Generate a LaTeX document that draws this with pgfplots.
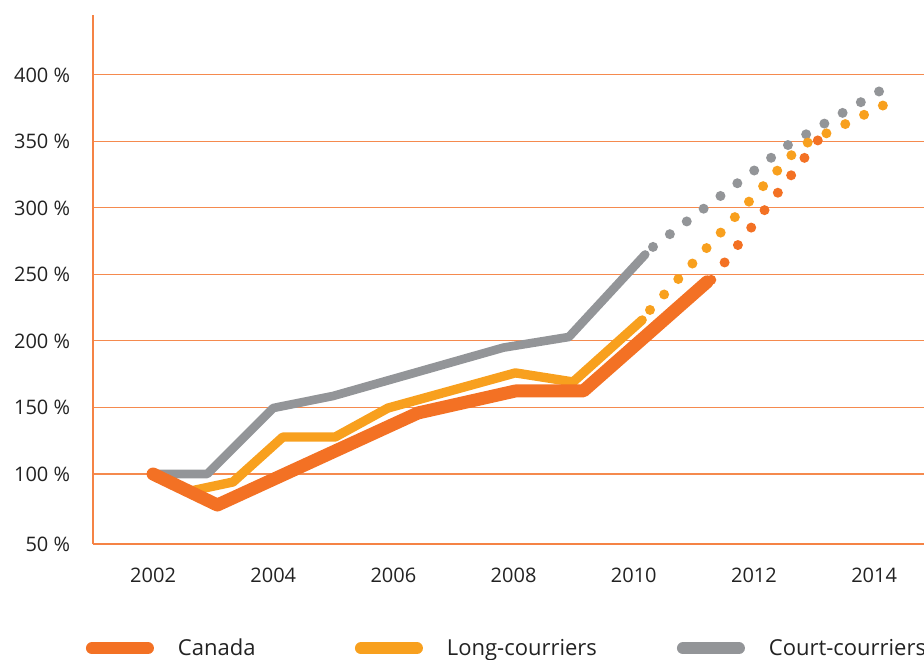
\documentclass[border=0pt]{standalone}
\usepackage{pgfplots}
\pgfplotsset{compat=1.18}
\usepackage{fontspec}
\setmainfont{Open Sans}

\definecolor{canada}{HTML}{F37124}
\definecolor{longc}{HTML}{F8A01E}
\definecolor{courtc}{HTML}{939598}
\definecolor{axisor}{HTML}{F58345}
\definecolor{gridor}{HTML}{F58A4E}
\definecolor{txt}{HTML}{222222}

\begin{document}
\begin{tikzpicture}
\path[use as bounding box] (-69.75pt,-87pt) rectangle (623.25pt,408pt);
\begin{axis}[
    at={(0pt,0pt)}, anchor=south west,
    scale only axis,
    width=623.25pt, height=396.75pt,
    xmin=2001, xmax=2014.83,
    ymin=47.4, ymax=445,
    axis lines*=left,
    axis line style={axisor, line width=1.5pt},
    major tick length=0pt,
    xtick={2002,2004,...,2014},
    xticklabels={2002,2004,2006,2008,2010,2012,2014},
    ytick={47.4,100,150,200,250,300,350,400},
    yticklabels={50 \%,100 \%,150 \%,200 \%,250 \%,300 \%,350 \%,400 \%},
    ymajorgrids,
    major grid style={gridor, line width=0.8pt},
    ticklabel style={font=\fontsize{15}{18}\selectfont, text=txt, inner sep=0pt},
    yticklabel style={anchor=east, xshift=-17pt},
    xticklabel style={anchor=north, yshift=-18pt},
    no markers,
    clip=false,
    legend columns=3,
    legend style={at={(0.497,-0.197)}, anchor=center, draw=none, fill=none,
        font=\fontsize{16.5}{19}\selectfont, text=txt,
        nodes={inner sep=0pt},
        /tikz/every odd column/.append style={column sep=18pt},
        /tikz/every even column/.append style={column sep=0pt}},
    legend image code/.code={\draw[#1, line width=9pt, line cap=round] (0pt,0pt) -- (42pt,0pt);},
]
\addlegendimage{color=canada}
\addlegendentry{\makebox[132.75pt][l]{Canada}}
\addlegendimage{color=longc}
\addlegendentry{\makebox[172.5pt][l]{Long-courriers}}
\addlegendimage{color=courtc}
\addlegendentry{Court-courriers}

% Court-courriers
\addplot[forget plot, courtc, line width=6.5pt, line cap=round, line join=round] coordinates {
  (2002,100) (2002.9,100) (2004,149.6) (2005,158.7) (2007.83,195) (2008.92,203) (2010.19,265)
};
\addplot[forget plot, courtc, line width=7.5pt, line cap=round, dash pattern=on 0pt off 15.85pt] coordinates {
  (2010.32,270.7) (2012.57,347.4) (2014.1,388)
};

% Long-courriers
\addplot[forget plot, longc, line width=7pt, line cap=round, line join=round] coordinates {
  (2002.6,87) (2003.33,94) (2004.16,127.8) (2005.03,127.8) (2005.91,149.6) (2008.03,176) (2008.99,169.2) (2010.14,215.8)
};
\addplot[forget plot, longc, line width=7.5pt, line cap=round, dash pattern=on 0pt off 15.72pt] coordinates {
  (2010.27,223.3) (2012.75,345.9) (2014.17,377.5)
};

% Canada
\addplot[forget plot, canada, line width=9.75pt, line cap=round, line join=round] coordinates {
  (2002,100) (2003.07,76.7) (2006.41,145.9) (2008.03,162.4) (2009.16,162.4) (2011.22,244.4)
};
\addplot[forget plot, canada, line width=7.5pt, line cap=round, dash pattern=on 0pt off 16.45pt] coordinates {
  (2011.29,245.9) (2013.07,351.2)
};
\end{axis}
\end{tikzpicture}
\end{document}
